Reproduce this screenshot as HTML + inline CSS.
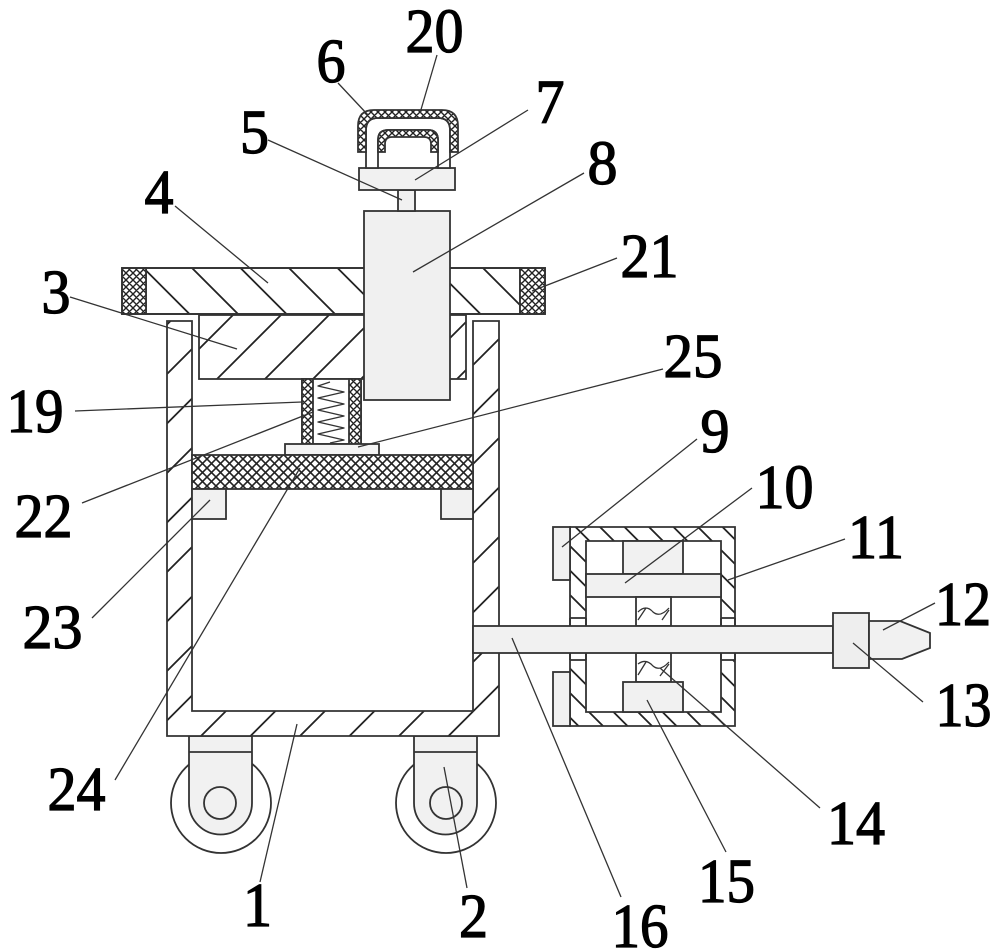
<!DOCTYPE html>
<html><head><meta charset="utf-8"><style>
html,body{margin:0;padding:0;background:#fff;}
svg{display:block;}
text{font-family:"Liberation Serif",serif;font-size:62px;fill:#000;stroke:#000;stroke-width:1.3;}
</style></head><body>
<svg width="1000" height="950" viewBox="0 0 1000 950" xmlns="http://www.w3.org/2000/svg">
<defs>
<pattern id="hb" patternUnits="userSpaceOnUse" width="49.5" height="49.5" x="167" y="572">
<rect width="49.5" height="49.5" fill="#fff"/>
<path d="M0,49.5 L49.5,0 M-3,3 L3,-3 M46.5,52.5 L52.5,46.5" stroke="#222" stroke-width="1.8"/>
</pattern>
<pattern id="h3" patternUnits="userSpaceOnUse" width="48" height="48" x="217" y="379">
<rect width="48" height="48" fill="#fff"/>
<path d="M0,48 L48,0 M-3,3 L3,-3 M45,51 L51,45" stroke="#222" stroke-width="1.8"/>
</pattern>
<pattern id="h4" patternUnits="userSpaceOnUse" width="48.5" height="48.5" x="192" y="268">
<rect width="48.5" height="48.5" fill="#fff"/>
<path d="M0,0 L48.5,48.5 M45.5,-3 L51.5,3 M-3,45.5 L3,51.5" stroke="#222" stroke-width="1.8"/>
</pattern>
<pattern id="hh" patternUnits="userSpaceOnUse" width="24.5" height="24.5" x="600" y="527">
<rect width="24.5" height="24.5" fill="#fff"/>
<path d="M0,0 L24.5,24.5 M21.5,-3 L27.5,3 M-3,21.5 L3,27.5" stroke="#222" stroke-width="1.8"/>
</pattern>
<pattern id="xh" patternUnits="userSpaceOnUse" width="9" height="9" x="0" y="0">
<rect width="9" height="9" fill="#fff"/>
<path d="M0,0 L9,9 M9,0 L0,9 M-1,1 L1,-1 M8,-1 L10,1 M-1,8 L1,10 M8,10 L10,8" stroke="#222" stroke-width="1.6"/>
</pattern>
<pattern id="xs" patternUnits="userSpaceOnUse" width="7" height="7" x="0" y="0">
<rect width="7" height="7" fill="#fff"/>
<path d="M0,0 L7,7 M7,0 L0,7 M-1,1 L1,-1 M6,-1 L8,1 M-1,6 L1,8 M6,8 L8,6" stroke="#222" stroke-width="1.4"/>
</pattern>
</defs>

<g stroke="#333" stroke-width="1.8" fill="none">
<!-- wheels -->
<circle cx="221" cy="803" r="50" fill="#fff"/>
<circle cx="446" cy="803" r="50" fill="#fff"/>
<path d="M189,736 V803 A31.5,31.5 0 0 0 252,803 V736 Z" fill="#f1f1f1"/>
<path d="M414,736 V803 A31.5,31.5 0 0 0 477,803 V736 Z" fill="#f1f1f1"/>
<line x1="189" y1="752" x2="252" y2="752"/>
<line x1="414" y1="752" x2="477" y2="752"/>
<circle cx="220" cy="803" r="16" fill="#f1f1f1"/>
<circle cx="446" cy="803" r="16" fill="#f1f1f1"/>

<!-- main box -->
<path d="M167,321 H192 V711 H473 V321 H499 V736 H167 Z" fill="url(#hb)"/>

<!-- plate 3 -->
<rect x="199" y="315" width="267" height="64" fill="url(#h3)"/>
<!-- plate 4 -->
<rect x="146" y="268" width="374" height="46" fill="url(#h4)"/>
<rect x="122" y="268" width="24" height="46" fill="url(#xs)"/>
<rect x="520" y="268" width="25" height="46" fill="url(#xs)"/>
<rect x="122" y="268" width="423" height="46"/>

<!-- column 8 -->
<rect x="364" y="211" width="86" height="189" fill="#f0f0f0"/>
<!-- rod 5 -->
<rect x="398" y="190" width="17" height="21" fill="#f1f1f1"/>
<!-- plate 7 -->
<rect x="359" y="168" width="96" height="22" fill="#f1f1f1"/>

<!-- handle -->
<path d="M366,168 V130 Q366,118 378,118 H438 Q450,118 450,130 V168 H438 V140 Q438,130 428,130 H388 Q378,130 378,140 V168 Z" fill="#fff"/>
<path d="M358,152 V126 Q358,110 374,110 H442 Q458,110 458,126 V152 H450 V130 Q450,118 438,118 H378 Q366,118 366,130 V152 Z" fill="url(#xs)"/>
<path d="M378,152 V140 Q378,130 388,130 H428 Q438,130 438,140 V152 H431 V144 Q431,137 424,137 H392 Q385,137 385,144 V152 Z" fill="url(#xs)"/>

<!-- spring housing 19 -->
<rect x="302" y="379" width="59" height="65" fill="#fff"/>
<rect x="302" y="379" width="11" height="65" fill="url(#xs)"/>
<rect x="349" y="379" width="12" height="65" fill="url(#xs)"/>
<polyline points="330,382 318,386 344,392 318,398 344,404 318,410 344,416 318,422 344,428 318,434 344,440 330,443" stroke-width="1.4" stroke-linejoin="round"/>
<!-- plate 25 -->
<rect x="285" y="444" width="94" height="11" fill="#f4f4f4"/>
<!-- plate 24 -->
<rect x="192" y="455" width="281" height="34" fill="url(#xh)"/>
<!-- blocks 23 -->
<rect x="192" y="489" width="34" height="30" fill="#f1f1f1"/>
<rect x="441" y="489" width="32" height="30" fill="#f1f1f1"/>

<!-- housing 11 -->
<path d="M570,527 H735 V726 H570 Z M586,541 V712 H721 V541 Z" fill="url(#hh)" fill-rule="evenodd"/>
<rect x="571" y="618" width="14" height="42" fill="#fff" stroke="none"/>
<rect x="722" y="618" width="12" height="42" fill="#fff" stroke="none"/>
<line x1="570" y1="618" x2="586" y2="618"/><line x1="570" y1="660" x2="586" y2="660"/>
<line x1="721" y1="618" x2="735" y2="618"/><line x1="721" y1="660" x2="735" y2="660"/>
<line x1="570" y1="618" x2="570" y2="660"/><line x1="586" y1="618" x2="586" y2="660"/>
<line x1="721" y1="618" x2="721" y2="660"/><line x1="735" y1="618" x2="735" y2="660"/>
<!-- flanges 9 -->
<rect x="553" y="527" width="17" height="53" fill="#f1f1f1"/>
<rect x="553" y="672" width="17" height="54" fill="#f1f1f1"/>
<!-- inner -->
<rect x="623" y="541" width="60" height="33" fill="#f1f1f1"/>
<rect x="586" y="574" width="135" height="23" fill="#f1f1f1"/>
<rect x="636" y="597" width="35" height="29" fill="#fff"/>
<rect x="636" y="653" width="35" height="29" fill="#fff"/>
<path d="M638,612 Q646,604 653,612 Q660,618 669,608 M638,620 L646,608 M662,620 L669,610" stroke-width="1.3"/>
<path d="M638,664 Q646,658 653,666 Q660,672 669,662 M638,675 L646,662 M660,676 L669,664" stroke-width="1.3"/>
<rect x="623" y="682" width="60" height="30" fill="#f1f1f1"/>

<!-- rod 16 -->
<rect x="473" y="626" width="360" height="27" fill="#f1f1f1"/>
<!-- collar 13 -->
<rect x="833" y="613" width="36" height="55" fill="#eeeeee"/>
<!-- tip 12 -->
<polygon points="869,621 900,621 930,633 930,648 902,659 869,659" fill="#f1f1f1"/>
</g>

<!-- leader lines -->
<g stroke="#333" stroke-width="1.3" fill="none">
<line x1="437" y1="55" x2="420" y2="113"/>
<line x1="338" y1="83" x2="368" y2="115"/>
<line x1="528" y1="110" x2="415" y2="180"/>
<line x1="268" y1="140" x2="402" y2="200"/>
<line x1="584" y1="173" x2="413" y2="272"/>
<line x1="175" y1="206" x2="268" y2="283"/>
<line x1="617" y1="258" x2="532" y2="291"/>
<line x1="70" y1="297" x2="237" y2="349"/>
<line x1="663" y1="369" x2="358" y2="447"/>
<line x1="75" y1="411" x2="302" y2="402"/>
<line x1="697" y1="439" x2="562" y2="547"/>
<line x1="752" y1="488" x2="625" y2="583"/>
<line x1="82" y1="503" x2="313" y2="412"/>
<line x1="845" y1="539" x2="728" y2="580"/>
<line x1="92" y1="618" x2="210" y2="500"/>
<line x1="935" y1="603" x2="883" y2="630"/>
<line x1="923" y1="702" x2="853" y2="643"/>
<line x1="115" y1="780" x2="300" y2="468"/>
<line x1="820" y1="808" x2="660" y2="668"/>
<line x1="726" y1="852" x2="647" y2="700"/>
<line x1="621" y1="897" x2="512" y2="638"/>
<line x1="260" y1="882" x2="297" y2="724"/>
<line x1="467" y1="888" x2="444" y2="767"/>
</g>

<!-- labels -->
<g text-anchor="middle">
<text x="434.5" y="52" textLength="58" lengthAdjust="spacingAndGlyphs">20</text>
<text x="331" y="82" textLength="29" lengthAdjust="spacingAndGlyphs">6</text>
<text x="550" y="123" textLength="29" lengthAdjust="spacingAndGlyphs">7</text>
<text x="254.5" y="153" textLength="29" lengthAdjust="spacingAndGlyphs">5</text>
<text x="602.5" y="184" textLength="30" lengthAdjust="spacingAndGlyphs">8</text>
<text x="159" y="213" textLength="29" lengthAdjust="spacingAndGlyphs">4</text>
<text x="649.5" y="277" textLength="58" lengthAdjust="spacingAndGlyphs">21</text>
<text x="56" y="313" textLength="29" lengthAdjust="spacingAndGlyphs">3</text>
<text x="693" y="377" textLength="59" lengthAdjust="spacingAndGlyphs">25</text>
<text x="35" y="432" textLength="57" lengthAdjust="spacingAndGlyphs">19</text>
<text x="715" y="452" textLength="29" lengthAdjust="spacingAndGlyphs">9</text>
<text x="784.5" y="508" textLength="58" lengthAdjust="spacingAndGlyphs">10</text>
<text x="43.5" y="537" textLength="58" lengthAdjust="spacingAndGlyphs">22</text>
<text x="876" y="558" textLength="56" lengthAdjust="spacingAndGlyphs">11</text>
<text x="52.5" y="648" textLength="60" lengthAdjust="spacingAndGlyphs">23</text>
<text x="963" y="625" textLength="56" lengthAdjust="spacingAndGlyphs">12</text>
<text x="963.5" y="726" textLength="56" lengthAdjust="spacingAndGlyphs">13</text>
<text x="76.5" y="810" textLength="58" lengthAdjust="spacingAndGlyphs">24</text>
<text x="856" y="844" textLength="58" lengthAdjust="spacingAndGlyphs">14</text>
<text x="726.5" y="902" textLength="57" lengthAdjust="spacingAndGlyphs">15</text>
<text x="257.5" y="926" textLength="29" lengthAdjust="spacingAndGlyphs">1</text>
<text x="473.5" y="937" textLength="29" lengthAdjust="spacingAndGlyphs">2</text>
<text x="640" y="947" textLength="57" lengthAdjust="spacingAndGlyphs">16</text>
</g>
</svg>
</body></html>
